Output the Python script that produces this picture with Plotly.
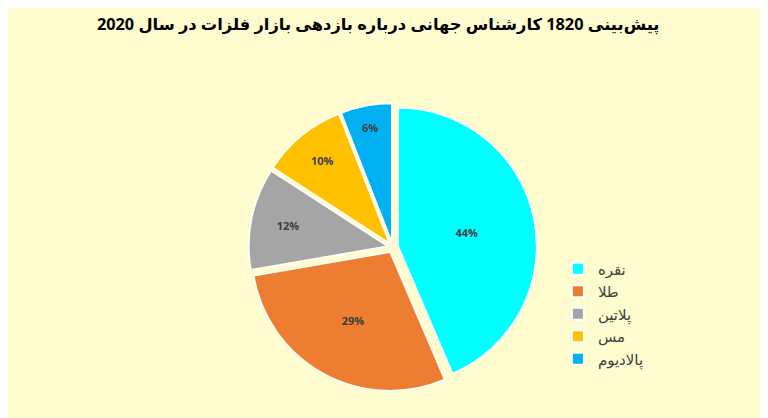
import plotly.graph_objects as go

labels = ["نقره", "طلا", "پلاتین", "مس", "پالادیوم"]
values = [44, 29, 12, 10, 6]
colors = ["#00FFFF", "#ED7D31", "#A5A5A5", "#FFC000", "#00B0F0"]
title = "پیش‌بینی 1820 کارشناس جهانی درباره بازدهی بازار فلزات در سال 2020"

bg = "#FFFCCF"

fig = go.Figure(go.Pie(
    labels=labels,
    values=values,
    sort=False,
    direction="clockwise",
    rotation=0,
    pull=[0.04] * len(values),
    marker=dict(colors=colors, line=dict(color="#FFFFFF", width=1.5)),
    texttemplate="%{value}%",
    textposition="inside",
    insidetextorientation="horizontal",
    textfont=dict(family="Open Sans, DejaVu Sans", size=11, color="#404040", weight="bold"),
    hoverinfo="label+value",
    domain=dict(x=[0.311, 0.691], y=[0.083, 0.772]),
))

fig.update_layout(
    width=768, height=418,
    paper_bgcolor=bg, plot_bgcolor=bg,
    margin=dict(l=0, r=0, t=0, b=0),
    title=dict(text=title, x=0.482, xanchor="center", y=0.962, yanchor="middle",
               font=dict(family="Noto Sans, DejaVu Sans", size=16.3, color="#000000", weight="bold")),
    legend=dict(x=0.716, y=0.415, xanchor="left", yanchor="top",
                font=dict(family="Noto Sans, DejaVu Sans", size=15, color="#404040"),
                bgcolor="rgba(0,0,0,0)", itemsizing="constant"),
    showlegend=True,
)

fig.write_html("out.html")
